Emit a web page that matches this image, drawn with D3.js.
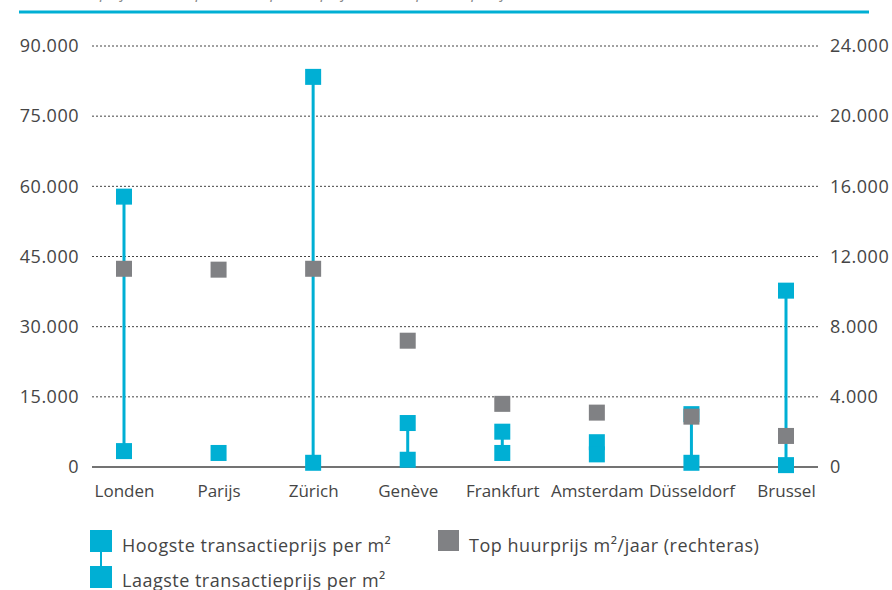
<!DOCTYPE html>
<html>
<head>
<meta charset="utf-8">
<script src="https://cdn.jsdelivr.net/npm/d3@7"></script>
<style>
  body { margin: 0; background: #fff; }
  text { font-family: "Open Sans", Lato, sans-serif; font-weight: 400; fill: #454545; letter-spacing: 0.5px; }
</style>
</head>
<body>
<div class="vis-holder"></div>
<script>
const width = 892;
const height = 590;

const cities = ["Londen", "Parijs", "Zürich", "Genève", "Frankfurt", "Amsterdam", "Düsseldorf", "Brussel"];
// transactieprijs per m2 (linkeras)
const hoogste = [57800, null, 83400, 9400, 7550, 5300, 11300, 37700];
const laagste = [3400, 3000, 900, 1550, 3000, 2700, 900, 400];
// top huurprijs m2/jaar (rechteras)
const huur = [11300, 11250, 11300, 7200, 3600, 3100, 2870, 1770];

const leftTicks = [0, 15000, 30000, 45000, 60000, 75000, 90000];
const rightTicks = [0, 4000, 8000, 12000, 16000, 20000, 24000];

const blue = "#00afd4";
const grey = "#808184";

const nl = d3.formatLocale({ decimal: ",", thousands: ".", grouping: [3], currency: ["€", ""] });
const fmt = nl.format(",");

const svg = d3.select(".vis-holder").append("svg")
    .attr("width", width)
    .attr("height", height);

// afgesneden titel + blauwe lijn bovenaan
svg.append("text")
    .attr("x", 22)
    .attr("y", -2)
    .attr("font-size", 16)
    .attr("font-style", "italic")
    .style("fill", "#888")
    .text("Transactieprijs in euro per m², top huurprijs in euro per m² per jaar, 2016");

svg.append("line")
    .attr("x1", 19).attr("x2", 869)
    .attr("y1", 12).attr("y2", 12)
    .attr("stroke", blue)
    .attr("stroke-width", 3);

const x = d3.scalePoint()
    .domain(cities)
    .range([124, 786]);

const y = d3.scaleLinear()
    .domain([0, 90000])
    .range([467, 46]);

const y2 = d3.scaleLinear()
    .domain([0, 24000])
    .range([467, 46]);

const plotLeft = 92, plotRight = 818;

// gridlijnen
svg.append("g")
    .selectAll("line")
    .data(leftTicks.filter(d => d > 0))
    .enter().append("line")
    .attr("x1", plotLeft).attr("x2", plotRight)
    .attr("y1", d => y(d)).attr("y2", d => y(d))
    .attr("stroke", "#444")
    .attr("stroke-width", 1)
    .attr("stroke-dasharray", "2,2");

svg.append("line")
    .attr("x1", plotLeft).attr("x2", plotRight)
    .attr("y1", y(0)).attr("y2", y(0))
    .attr("stroke", "#444")
    .attr("stroke-width", 1.3);

// assen
const leftAxis = svg.append("g")
    .attr("transform", `translate(${plotLeft},0)`)
    .call(d3.axisLeft(y).tickValues(leftTicks).tickFormat(fmt).tickSize(0).tickPadding(13));
leftAxis.select(".domain").remove();
leftAxis.selectAll("text").attr("font-size", 18).attr("font-family", null);

const rightAxis = svg.append("g")
    .attr("transform", `translate(${plotRight},0)`)
    .call(d3.axisRight(y2).tickValues(rightTicks).tickFormat(fmt).tickSize(0).tickPadding(12));
rightAxis.select(".domain").remove();
rightAxis.selectAll("text").attr("font-size", 18).attr("font-family", null);

const xAxis = svg.append("g")
    .attr("transform", `translate(0,${y(0)})`)
    .call(d3.axisBottom(x).tickSize(0).tickPadding(18));
xAxis.select(".domain").remove();
xAxis.selectAll("text").attr("font-size", 17).attr("font-family", null).style("letter-spacing", "0px");

const rows = cities.map((c, i) => ({ city: c, hi: hoogste[i], lo: laagste[i], huur: huur[i] }));
const size = 16;

// verbindingslijnen
svg.append("g")
    .selectAll("line")
    .data(rows.filter(d => d.hi != null))
    .enter().append("line")
    .attr("x1", d => x(d.city)).attr("x2", d => x(d.city))
    .attr("y1", d => y(d.lo)).attr("y2", d => y(d.hi))
    .attr("stroke", blue)
    .attr("stroke-width", 3);

// blauwe markers
const blueVals = [];
rows.forEach(d => {
    if (d.hi != null) blueVals.push({ city: d.city, v: d.hi });
    blueVals.push({ city: d.city, v: d.lo });
});
svg.append("g")
    .selectAll("rect")
    .data(blueVals)
    .enter().append("rect")
    .attr("x", d => x(d.city) - size / 2)
    .attr("y", d => y(d.v) - size / 2)
    .attr("width", size).attr("height", size)
    .attr("fill", blue);

// grijze markers (rechteras)
svg.append("g")
    .selectAll("rect")
    .data(rows)
    .enter().append("rect")
    .attr("x", d => x(d.city) - size / 2)
    .attr("y", d => y2(d.huur) - size / 2)
    .attr("width", size).attr("height", size)
    .attr("fill", grey);

// legenda
const legend = svg.append("g");
legend.append("line")
    .attr("x1", 101).attr("x2", 101)
    .attr("y1", 541).attr("y2", 577)
    .attr("stroke", blue).attr("stroke-width", 2);
legend.append("rect").attr("x", 90).attr("y", 530).attr("width", 22).attr("height", 22).attr("fill", blue);
legend.append("rect").attr("x", 90).attr("y", 566).attr("width", 22).attr("height", 22).attr("fill", blue);
legend.append("rect").attr("x", 438).attr("y", 530).attr("width", 21).attr("height", 21).attr("fill", grey);

legend.append("text").attr("x", 122).attr("y", 552).attr("font-size", 18).text("Hoogste transactieprijs per m²");
legend.append("text").attr("x", 122).attr("y", 587).attr("font-size", 18).text("Laagste transactieprijs per m²");
legend.append("text").attr("x", 469).attr("y", 552).attr("font-size", 18).text("Top huurprijs m²/jaar (rechteras)");
</script>
</body>
</html>
